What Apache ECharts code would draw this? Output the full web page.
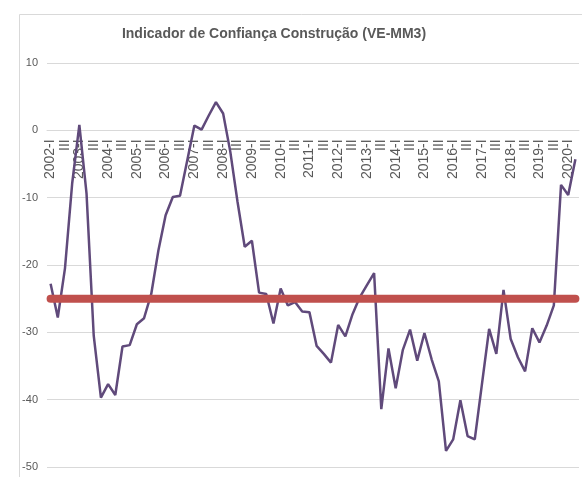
<!DOCTYPE html>
<html>
<head>
<meta charset="utf-8">
<script src="https://cdn.jsdelivr.net/npm/echarts@6/dist/echarts.min.js"></script>
<style>
  html, body { margin: 0; padding: 0; background: #fff; }
  #chart { width: 582px; height: 477px; }
</style>
</head>
<body>
<div id="chart"></div>
<script>
// quarters 2002-I .. 2020-II, year shown only on the first quarter
var years = [2002, 2003, 2004, 2005, 2006, 2007, 2008, 2009, 2010, 2011,
  2012, 2013, 2014, 2015, 2016, 2017, 2018, 2019, 2020];
var quarters = ['I', 'II', 'III', 'IV'];
var categories = [];
years.forEach(function (y) {
  quarters.forEach(function (q) {
    if (y === 2020 && (q === 'III' || q === 'IV')) return;
    categories.push(q === 'I' ? y + '-I' : q);
  });
});

// Indicador de Confiança Construção (VE-MM3)
var confianca = [
  -22.8, -27.8, -20.5, -7.9,     // 2002
  0.8, -9.4, -30.5, -39.7,       // 2003
  -37.7, -39.3, -32.1, -31.9,    // 2004
  -28.8, -27.9, -24.3, -17.8,    // 2005
  -12.6, -9.9, -9.7, -4.5,       // 2006
  0.7, 0.1, 2.2, 4.2,            // 2007
  2.5, -3.2, -10.6, -17.3,       // 2008
  -16.4, -24.1, -24.3, -28.7,    // 2009
  -23.5, -26.0, -25.5, -26.9,    // 2010
  -27.0, -32.0, -33.2, -34.5,    // 2011
  -28.9, -30.6, -27.3, -24.8,    // 2012
  -23.0, -21.2, -41.4, -32.4,    // 2013
  -38.3, -32.6, -29.6, -34.2,    // 2014
  -30.1, -34.0, -37.3, -47.6,    // 2015
  -45.9, -40.1, -45.4, -45.9,    // 2016
  -37.7, -29.5, -33.2, -23.7,    // 2017
  -31.0, -33.7, -35.8, -29.4,    // 2018
  -31.5, -29.0, -26.0, -8.1,     // 2019
  -9.6, -4.3                     // 2020
];

// horizontal reference level (red line)
var referencia = -25;

var yTicks = { min: -50, max: 10, step: 10 };

var W = 582, H = 477;
var gridTop = 63, gridBottom = 10;
// onZero is not honoured here, so lift the category axis up to the 0 line by hand
var plotH = H - gridTop - gridBottom;
var zeroOffset = -plotH * (0 - yTicks.min) / (yTicks.max - yTicks.min);

var chart = echarts.init(document.getElementById('chart'), null, { renderer: 'canvas' });

var option = {
  backgroundColor: '#ffffff',
  animation: false,
  title: {
    text: 'Indicador de Confiança Construção (VE-MM3)',
    left: 269,
    textAlign: 'center',
    top: 22,
    textStyle: {
      fontFamily: '"Liberation Sans", Arial, sans-serif',
      fontSize: 14,
      fontWeight: 'bold',
      color: '#595959'
    }
  },
  graphic: [{
    // chart frame
    type: 'rect',
    left: 17,
    top: 12,
    shape: { width: 620, height: 520 },
    style: { fill: 'none', stroke: '#d9d9d9', lineWidth: 1 },
    silent: true,
    z: -1
  }],
  grid: {
    left: 47,
    right: 3,
    top: gridTop,
    bottom: gridBottom,
    containLabel: false,
    outerBoundsMode: 'none'
  },
  xAxis: {
    type: 'category',
    data: categories,
    boundaryGap: true,
    position: 'bottom',
    offset: zeroOffset,
    axisLine: { show: true, onZero: false, lineStyle: { color: '#d9d9d9' } },
    axisTick: { show: false },
    axisLabel: {
      interval: 1,
      rotate: 90,
      margin: 9,
      fontSize: 14,
      fontFamily: '"Liberation Sans", Arial, sans-serif',
      color: '#595959'
    },
    splitLine: { show: false }
  },
  yAxis: {
    type: 'value',
    min: yTicks.min,
    max: yTicks.max,
    interval: yTicks.step,
    axisLine: { show: false },
    axisTick: { show: false },
    axisLabel: {
      margin: 9,
      fontSize: 11,
      fontFamily: '"Liberation Sans", Arial, sans-serif',
      color: '#595959'
    },
    splitLine: { lineStyle: { color: '#d9d9d9', width: 1 } }
  },
  series: [{
    name: 'Confiança',
    type: 'line',
    data: confianca,
    symbol: 'none',
    smooth: false,
    lineStyle: { color: '#604a7b', width: 2.5 },
    z: 2
  }, {
    name: 'Referência',
    type: 'line',
    data: [[categories[0], referencia], [categories[categories.length - 1], referencia]],
    symbol: 'none',
    lineStyle: { color: '#c0504d', width: 8, cap: 'round' },
    z: 3
  }]
};

chart.setOption(option);
</script>
</body>
</html>
